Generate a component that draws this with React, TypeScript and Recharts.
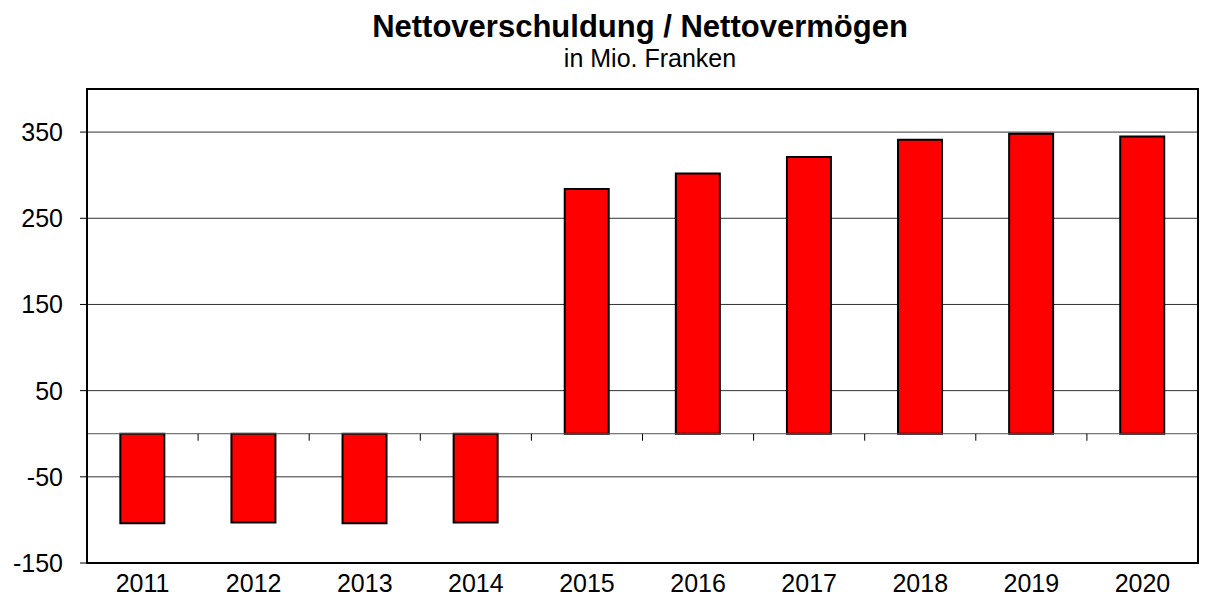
import { BarChart, Bar, XAxis, YAxis, CartesianGrid, ReferenceLine, ReferenceArea } from 'recharts';

const years = ['2011', '2012', '2013', '2014', '2015', '2016', '2017', '2018', '2019', '2020'];
const netValues = [-104, -103, -104, -103, 284, 302, 321, 341, 348, 345];
const yTicks = [-150, -50, 50, 150, 250, 350];

const FONT = '"Liberation Sans", Arial, sans-serif';

const data = years.map((year, i) => ({ year, value: netValues[i] }));

// zero line with the small category separators hanging below it
function ZeroLine(props: any) {
  const { x1, x2, y1 } = props;
  const step = (x2 - x1) / years.length;
  return (
    <g>
      <line x1={x1} x2={x2} y1={y1} y2={y1} stroke="#555" strokeWidth={1} />
      {years.slice(1).map((y, i) => {
        const x = x1 + step * (i + 1);
        return <line key={y} x1={x} x2={x} y1={y1} y2={y1 + 7} stroke="#000" strokeWidth={1} />;
      })}
    </g>
  );
}

export default function App() {
  return (
    <div style={{ position: 'absolute', left: 0, top: 0, width: 1205, height: 599, background: '#fff', fontFamily: FONT }}>
      <div style={{ position: 'absolute', left: 0, top: 11, width: 1280, textAlign: 'center', fontSize: 31, lineHeight: '31px', fontWeight: 'bold', color: '#000' }}>
        Nettoverschuldung / Nettovermögen
      </div>
      <div style={{ position: 'absolute', left: 10, top: 46, width: 1280, textAlign: 'center', fontSize: 25, lineHeight: '25px', color: '#000' }}>
        in Mio. Franken
      </div>
      <BarChart
        width={1205}
        height={599}
        data={data}
        margin={{ top: 89, right: 7, bottom: 0, left: 0 }}
        barCategoryGap="30%"
        style={{ position: 'absolute', left: 0, top: 0 }}
      >
        <CartesianGrid vertical={false} stroke="#333" strokeWidth={1} />
        <XAxis
          dataKey="year"
          height={36}
          axisLine={false}
          tickLine={false}
          tickSize={0}
          tickMargin={11}
          tick={{ fontSize: 25, fill: '#000', fontFamily: FONT }}
        />
        <YAxis
          width={87}
          domain={[-150, 400]}
          ticks={yTicks}
          interval={0}
          axisLine={{ stroke: '#000', strokeWidth: 2 }}
          tickLine={{ stroke: '#000', strokeWidth: 1 }}
          tickSize={7}
          tickMargin={17}
          tick={{ fontSize: 25, fill: '#000', fontFamily: FONT }}
        />
        <ReferenceArea y1={-150} y2={400} fill="none" stroke="#000" strokeWidth={2} />
        <Bar dataKey="value" fill="#ff0000" stroke="#000" strokeWidth={2} isAnimationActive={false} />
        <ReferenceLine y={0} shape={ZeroLine} />
      </BarChart>
    </div>
  );
}
